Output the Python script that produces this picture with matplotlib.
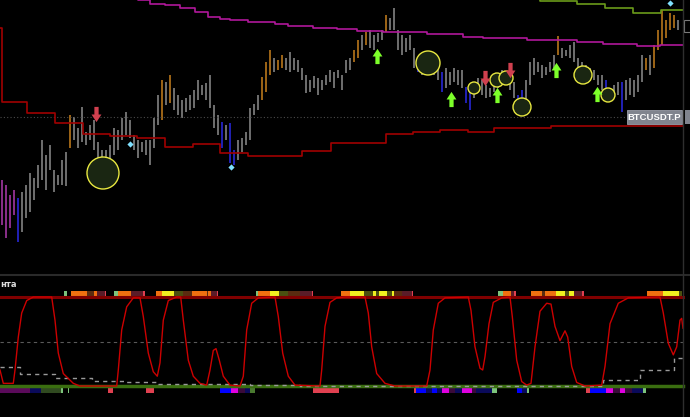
import numpy as np
import matplotlib
matplotlib.use('Agg')
import matplotlib.pyplot as plt
from matplotlib.patches import Circle, Rectangle
from matplotlib.path import Path
from matplotlib.lines import Line2D

# ---- price panel data (time in minutes, one bar every 4 minutes) ----
bar_high = [95, 90, 80, 85, 77, 83, 90, 102, 97, 110, 135, 120, 130, 105, 100, 115, 123, 160, 158, 147,
            168, 143, 150, 155, 133, 125, 125, 130, 147, 145, 157, 163, 155, 140, 135, 133, 135, 135, 157, 180,
            195, 193, 200, 187, 180, 175, 177, 180, 185, 195, 190, 192, 200, 170, 160, 153, 150, 152, 125, 135,
            137, 143, 167, 171, 180, 198, 213, 225, 217, 215, 220, 217, 223, 217, 215, 207, 200, 195, 199, 197,
            195, 200, 205, 203, 205, 200, 215, 217, 225, 235, 240, 243, 245, 240, 242, 245, 260, 257, 267, 245,
            240, 237, 240, 227, 217, 215, 217, 215, 213, 215, 203, 207, 203, 207, 205, 205, 188, 183, 190, 197,
            195, 190, 187, 195, 200, 205, 203, 200, 193, 180, 185, 195, 213, 217, 213, 210, 208, 213, 220, 239,
            227, 225, 230, 233, 217, 213, 210, 207, 205, 200, 200, 195, 187, 190, 193, 193, 195, 197, 195, 200,
            220, 217, 220, 230, 245, 265, 255, 262, 260, 255]
bar_low = [50, 37, 47, 60, 33, 43, 57, 63, 75, 87, 95, 85, 105, 83, 90, 90, 89, 127, 135, 127,
           133, 130, 135, 125, 115, 103, 100, 115, 120, 125, 135, 140, 137, 125, 117, 123, 120, 110, 127, 150,
           155, 170, 172, 165, 160, 157, 163, 165, 167, 175, 180, 175, 167, 147, 140, 127, 135, 112, 110, 115,
           123, 130, 135, 160, 165, 175, 183, 200, 203, 205, 207, 205, 203, 205, 203, 195, 182, 183, 187, 180,
           185, 190, 193, 187, 197, 185, 202, 205, 213, 217, 225, 230, 227, 225, 233, 235, 243, 245, 245, 225,
           220, 223, 225, 207, 203, 200, 205, 203, 200, 195, 183, 187, 190, 193, 190, 187, 172, 165, 177, 183,
           180, 177, 178, 183, 187, 190, 191, 185, 177, 163, 165, 175, 190, 200, 203, 197, 200, 203, 207, 220,
           217, 219, 217, 213, 203, 200, 202, 197, 195, 190, 185, 180, 175, 177, 180, 163, 175, 180, 178, 183,
           193, 205, 200, 207, 225, 230, 237, 245, 247, 245]
bar_kind = ("mmmm" + "b" + "g" * 12 + "o" + "g" * 22 + "o" + "g" + "o" + "g" * 12 + "b" + "g" + "bb"
            + "g" * 6 + "ooo" + "g" + "oo" + "g" * 17 + "oo" + "g" + "o" + "g" * 4 + "o" + "g" * 7 + "b"
            + "g" * 5 + "b" + "g" * 5 + "bb" + "g" * 11 + "bb" + "g" * 8 + "o" + "g" * 11 + "bb" + "gg"
            + "b" + "g" * 5 + "o" + "g" + "o" * 6 + "g")

last_price = 158

red_band_t = [0, 2, 27, 55, 83, 110, 137, 165, 193, 220, 248, 302, 331, 386, 413, 440, 468, 494, 551, 683]
red_band_p = [247, 173, 162, 152, 141, 139, 137, 128, 131, 122, 119, 124, 132, 141, 143, 145, 143, 147, 149, 149]

mag_band_t = [125, 138, 150, 165, 180, 195, 208, 220, 230, 248, 275, 288, 313, 337, 357, 383, 427, 463,
              483, 527, 577, 603, 637, 660, 683]
mag_band_p = [280, 275, 271, 270, 267, 263, 258, 256, 255, 253, 251, 249, 247, 246, 244, 243, 241, 238,
              237, 235, 233, 231, 229, 230, 230]

grn_band_t = [520, 540, 577, 605, 633, 661, 683]
grn_band_p = [276, 274, 271, 267, 262, 265, 265]

buy_t = [377, 451, 497, 556, 597]
buy_p = [219, 176, 180, 205, 181]
sell_t = [96, 485, 510]
sell_p = [161, 197.5, 205]
ring_t = [103, 428, 474, 497, 506, 522, 583, 608]
ring_p = [102, 212, 187, 195, 197, 168, 200, 180]
ring_r = [16, 12, 6, 7, 7, 9, 9, 7]
dot_t = [130, 231, 670]
dot_p = [131, 108, 272]

# ---- oscillator panel data ----
osc_t = [0, 3.3, 13.3, 15, 18.3, 21.7, 26.7, 33.3, 51.7, 55, 58.3, 63.3, 73.3, 80, 116.7, 118.3, 121.7,
         126.7, 133.3, 140, 143.3, 148.3, 153.3, 157.3, 160, 163.3, 168.3, 176.7, 180.7, 183.3, 188.3,
         193.3, 200, 206.7, 210, 213.3, 216, 219.3, 223.3, 230, 240, 243.3, 246.7, 251.7, 258.3, 275,
         278.3, 282.7, 288.3, 295, 320, 321.7, 325, 330, 336.7, 345, 365, 368.3, 371.7, 376.7, 385, 395,
         426.7, 430, 433.3, 438.3, 445, 468.3, 471, 475, 480, 482.7, 485, 489, 493.3, 501.7, 510, 512.3,
         516.7, 521.7, 526.7, 531, 535, 540, 546.7, 551, 555, 560, 565, 567.7, 571.7, 576.7, 585, 601.7,
         605, 610, 618.3, 628.3, 660, 663.3, 668.3, 673.3, 676.7, 680, 681.7, 683]
osc_v = [18, 3, 3, 18, 55, 82, 96, 100, 100, 74, 37, 14, 3, 0, 0, 18, 63,
         89, 99, 99, 78, 37, 16, 11, 26, 74, 96, 100, 100, 74, 29,
         11, 3, 1, 18, 40, 42, 29, 11, 1, 0, 11, 63, 93, 99, 100,
         78, 37, 11, 1, 0, 18, 67, 94, 99, 100, 100, 82, 44, 14, 3, 0,
         0, 18, 63, 93, 99, 100, 85, 44, 20, 18, 33, 70, 94, 99, 100, 78,
         29, 5, 1, 3, 44, 84, 93, 92, 67, 51, 62, 55, 22, 4, 0, 1,
         22, 70, 93, 99, 100, 82, 48, 35, 44, 74, 76, 65]

sig_t = [0, 20, 55, 92, 125, 158, 250, 300, 603, 640, 674, 683]
sig_v = [21, 13.5, 9, 6, 4, 2.5, 1, 0, 6.7, 18, 32, 32]

LG, OR, BR, MR, RD = '#7cc47c', '#f07010', '#5a2c10', '#5a1c28', '#e04050'
YE, OL, PU, NV = '#f0f020', '#4a5010', '#5a0a5a', '#0a0a5a'
BL, MG, DP, DO = '#0000ff', '#e000e0', '#3a0a3a', '#304a20'

top_strip = [(64, 67, LG), (71, 87, OR), (87, 94, BR), (94, 97, OR), (97, 105, MR), (105, 106, RD),
             (114, 118, LG), (118, 131, OR), (131, 143, MR), (143, 145, RD),
             (156, 162, OR), (162, 174, YE), (174, 183, OL), (183, 192, BR), (192, 207, OR), (207, 208, BR),
             (208, 211, OR), (211, 217, MR), (217, 218, RD),
             (256, 258, LG), (258, 270, OR), (270, 279, YE), (279, 288, OL), (288, 300, BR), (300, 312, MR),
             (312, 313, RD),
             (341, 350, OR), (350, 364, YE), (364, 373, OL), (373, 376, YE), (376, 379, OL), (379, 387, YE),
             (387, 392, OL), (392, 394, YE), (394, 402, BR), (402, 412, MR), (412, 413, RD),
             (498, 503, LG), (503, 511, OR), (511, 514, MR), (514, 516, RD),
             (531, 542, OR), (542, 545, BR), (545, 556, OR), (556, 565, YE), (565, 569, OL), (569, 574, YE),
             (574, 582, MR), (582, 584, RD),
             (647, 663, OR), (663, 679, YE), (679, 682, OL)]

bottom_strip = [(0, 30, PU), (30, 41, NV), (41, 61, DO), (61, 63, LG), (68, 69, LG), (108, 113, RD),
                (146, 154, RD),
                (220, 231, BL), (231, 238, MG), (238, 245, DP), (245, 250, NV), (250, 255, '#4a7a30'),
                (313, 339, RD),
                (414, 416, RD), (416, 426, BL), (426, 432, NV), (432, 437, BL), (437, 442, NV), (442, 449, MG),
                (449, 455, DP), (455, 462, NV), (462, 472, MG), (472, 476, DP), (476, 492, NV), (492, 497, LG),
                (517, 522, BL), (522, 527, NV), (527, 529, LG),
                (586, 590, RD), (590, 606, BL), (606, 613, MG), (613, 620, DP), (620, 625, MG), (625, 632, DP),
                (632, 643, NV), (643, 646, LG)]

kind_colors = {'g': '#8e8e8e', 'o': '#c8801e', 'b': '#2a2ae8', 'm': '#b03cb0'}

# ---- figure ----
fig = plt.figure(figsize=(6.9, 4.17), dpi=100, facecolor='black')
ax = fig.add_axes([0, 142 / 417, 1, 275 / 417])
ax2 = fig.add_axes([0, 0, 1, 141 / 417])
for a in (ax, ax2):
    a.set_facecolor('black')
    a.set_xlim(0, 690)
    a.set_xticks([])
    a.set_yticks([])
    for s in a.spines.values():
        s.set_visible(False)
ax.set_ylim(0, 275)
ax2.set_ylim(-34.8, 123.6)

# price panel
bar_time = 2 + 4 * np.arange(len(bar_high))
ax.vlines(bar_time, bar_low, bar_high, colors=[kind_colors[k] for k in bar_kind], lw=1.1)
ax.plot([0, 683], [last_price, last_price], color='#4a4a4a', lw=0.8, ls=(0, (1, 2)))
ax.plot(red_band_t, red_band_p, drawstyle='steps-post', color='#a00000', lw=1.2)
ax.plot(mag_band_t, mag_band_p, drawstyle='steps-post', color='#b0189a', lw=1.2)
ax.plot(grn_band_t, grn_band_p, drawstyle='steps-post', color='#6a9a1a', lw=1.2)

for t, p, r in zip(ring_t, ring_p, ring_r):
    ax.add_patch(Circle((t, p), r, facecolor='#1a2612', edgecolor='#e8e840', lw=1.0, zorder=4))

up_arrow = Path([(-0.28, -1), (0.28, -1), (0.28, 0), (0.65, 0), (0, 1), (-0.65, 0), (-0.28, 0), (-0.28, -1)])
down_arrow = Path([(x, -y) for x, y in up_arrow.vertices])
ax.scatter(buy_t, buy_p, marker=up_arrow, s=120, color='#7dff2a', zorder=5, linewidths=0)
ax.scatter(sell_t, sell_p, marker=down_arrow, s=120, color='#d0404f', zorder=5, linewidths=0)
ax.scatter(dot_t, dot_p, marker='D', s=10, color='#80e0ff', zorder=5, linewidths=0)

ax.add_patch(Rectangle((627, last_price - 7), 55, 14, facecolor='#80848e', edgecolor='#9a9ea8', lw=0.6,
                       zorder=6))
ax.text(654.5, last_price - 0.5, 'BTCUSDT.P', color='white', fontsize=6.8, family='Liberation Sans',
        fontweight='bold', ha='center', va='center', zorder=7)
ax.add_patch(Rectangle((685, last_price - 7), 10, 14, facecolor='#80848e', edgecolor='none', zorder=6))
ax.add_patch(Rectangle((684, 243), 8, 12, facecolor='none', edgecolor='#7a7a7a', lw=0.8, zorder=6))

# oscillator panel
ax2.plot([0, 683], [0, 0], color='#3a6e10', lw=2.5)
ax2.plot([0, 683], [100, 100], color='#800000', lw=2.2)
ax2.plot([0, 683], [50, 50], color='#5a5a5a', lw=0.8, ls=(0, (3, 3)))
ax2.plot(sig_t, sig_v, drawstyle='steps-post', color='#9a9a9a', lw=1, ls=(0, (3, 3)))
ax2.plot(osc_t, osc_v, color='#cc0000', lw=1.0)
ax2.broken_barh([(a, b - a) for a, b, c in top_strip], (101.3, 5.6),
                facecolors=[c for a, b, c in top_strip])
ax2.broken_barh([(a, b - a) for a, b, c in bottom_strip], (-7.8, 6.5),
                facecolors=[c for a, b, c in bottom_strip])
ax2.text(0, 114.6, 'нта', color='#dddddd', fontsize=6, fontweight='bold', ha='left', va='center')

fig.add_artist(Line2D([0, 1], [142 / 417, 142 / 417], color='#2a2a2a', lw=1.5, transform=fig.transFigure))
fig.add_artist(Line2D([683 / 690, 683 / 690], [0, 1], color='#2e2e2e', lw=1.0, transform=fig.transFigure))

fig.savefig('out.png', dpi=100, facecolor='black')
